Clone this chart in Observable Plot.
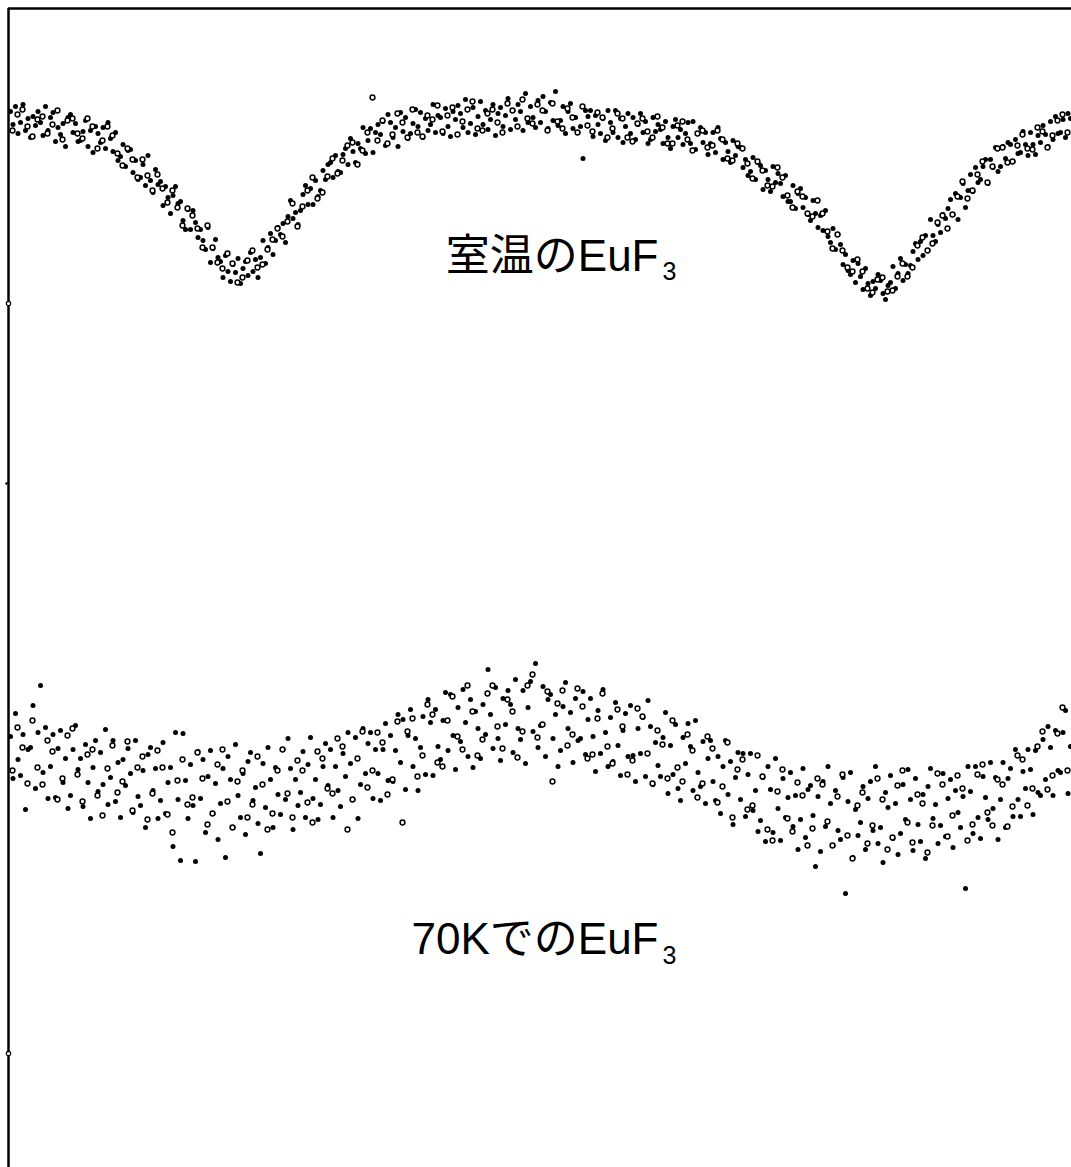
<!DOCTYPE html>
<html><head><meta charset="utf-8">
<script src="https://cdn.jsdelivr.net/npm/d3@7"></script>
<script src="https://cdn.jsdelivr.net/npm/@observablehq/plot@0.6"></script>
<style>html,body{margin:0;padding:0;background:#fff}</style>
</head><body><div id="chart"></div>
<script>
// Positions along the scan (arbitrary units), sampled on a regular grid
const filledStart = 2, filledStep = 2.5;
const openStart = 4, openStep = 5;

// Room temperature EuF3 — filled markers
const roomFilled = [
1056,1043,1061,1034,1045,1063,1037,1049,1030,1051,1042,1056,1045,1032,1061,1037,1050,1055,1026,1040,
1033,1044,1021,1050,1053,1035,1044,1026,1027,1036,1047,1021,1037,1015,1041,1034,1025,1040,1019,1045,
1029,1016,1035,1007,1011,1023,1001,1017,1018,995,1007,988,990,1003,982,1012,987,975,998,983,
986,962,981,970,954,972,981,964,966,947,938,958,938,957,945,930,938,927,918,940,
905,919,928,910,906,890,912,896,886,903,895,909,884,899,906,892,915,896,908,890,
910,927,904,920,934,913,927,940,933,944,925,951,967,949,955,943,957,973,982,963,
979,963,987,971,977,997,988,1003,1005,990,1012,996,995,1013,1019,1003,1029,1016,1005,1024,
1019,1040,1014,1027,1039,1015,1035,1043,1033,1046,1022,1053,1045,1030,1040,1021,1055,1036,1050,1029,
1034,1044,1058,1041,1055,1030,1049,1037,1043,1063,1035,1052,1050,1034,1059,1041,1031,1056,1048,1062,
1054,1040,1068,1035,1044,1060,1033,1051,1066,1043,1057,1038,1048,1063,1032,1054,1060,1041,1052,1069,
1038,1057,1048,1063,1056,1037,1074,1045,1061,1050,1040,1067,1045,1071,1056,1039,1065,1047,1076,1042,
1047,1061,1034,1056,1064,1039,1050,1035,1041,1009,1057,1051,1057,1031,1052,1043,1034,1049,1027,1057,
1045,1035,1057,1030,1049,1025,1041,1054,1034,1050,1028,1043,1054,1035,1046,1024,1028,1050,1036,1043,
1038,1024,1046,1030,1019,1041,1048,1030,1038,1023,1034,1045,1024,1046,1018,1034,1040,1025,1035,1013,
1024,1035,1015,1040,1029,1008,1025,1016,1005,1027,1012,1021,1020,1000,1008,992,996,1010,988,1005,
1002,978,997,988,976,1001,985,994,984,971,992,966,966,982,959,974,979,960,970,953,
947,967,954,940,952,937,957,931,925,939,918,933,923,903,913,897,893,907,885,904,
891,878,899,884,872,886,879,893,887,874,868,882,885,901,879,894,909,887,903,894,
902,916,924,908,926,912,932,917,948,932,926,943,935,953,949,959,968,953,974,948,
970,984,960,977,993,976,1000,985,988,1001,1008,984,1008,1000,1020,996,1001,1021,1009,1025,
1023,1006,1028,1014,1015,1036,1023,1012,1035,1023,1013,1032,1025,1042,1033,1021,1046,1028,1051,1034,
1035,1048,1030,1054,1049
];

// Room temperature EuF3 — open markers
const roomOpen = [
1037,1053,1058,1041,1031,1048,1051,1034,1043,1057,1028,1047,1049,1034,1029,1049,1041,1019,1027,1041,
1032,1014,1002,1019,1008,990,1008,992,977,993,979,965,977,960,942,959,952,939,920,942,
920,905,899,914,904,885,890,907,917,900,903,918,928,939,931,946,964,941,961,977,
990,969,975,991,1009,994,1007,1022,1025,1003,1017,1035,1070,1027,1047,1024,1033,1054,1045,1030,
1058,1035,1031,1052,1048,1062,1036,1052,1060,1033,1046,1058,1066,1039,1037,1054,1058,1045,1035,1064,
1057,1041,1068,1049,1044,1063,1057,1037,1064,1046,1039,1059,1050,1035,1061,1042,1036,1055,1050,1030,
1039,1054,1049,1030,1026,1044,1049,1036,1030,1051,1040,1024,1024,1042,1046,1028,1017,1034,1037,1020,
1022,1037,1028,1009,1007,1024,1019,1004,989,1006,997,982,981,1000,990,972,960,976,971,954,
951,967,954,936,919,933,917,900,896,908,896,879,875,888,890,876,877,891,904,891,
900,922,930,917,924,945,952,939,953,971,986,969,977,993,1006,985,1001,1019,1020,1005,
1006,1022,1033,1019,1018,1040,1036,1020,1032,1047,1053,1035
];

// EuF3 at 70 K — filled markers
const coldFilled = [
431,389,454,408,392,433,358,418,420,462,379,435,482,395,440,369,401,433,370,419,
437,385,409,359,372,418,442,398,409,361,423,385,349,400,427,376,415,383,438,363,
390,427,366,405,350,408,382,419,394,355,427,371,362,397,340,413,420,377,399,349,
367,425,354,385,400,321,435,368,307,434,387,349,403,362,306,416,369,408,335,391,
417,354,384,328,364,399,310,411,388,340,423,372,350,394,333,406,415,367,380,344,
314,404,360,420,388,340,400,373,353,418,368,429,399,338,388,362,375,416,350,403,
430,369,388,348,363,401,424,382,418,350,401,377,361,414,391,435,404,368,430,349,
383,439,394,424,435,369,418,394,367,418,444,387,432,386,417,453,405,448,378,432,
458,401,429,377,420,451,393,468,445,392,458,421,408,447,475,417,473,432,398,460,
426,478,445,411,468,400,456,439,409,463,433,498,453,419,480,429,407,469,443,477,
463,415,488,439,428,477,404,460,486,436,504,420,442,481,411,468,473,429,453,401,
417,461,485,439,455,405,469,427,429,476,413,448,469,431,396,457,414,478,435,401,
450,406,465,422,392,437,454,411,462,412,386,439,414,450,391,467,441,383,425,402,
391,430,455,374,422,393,443,379,367,430,404,444,421,377,447,395,381,426,364,409,
427,386,367,411,354,401,427,373,406,343,390,415,368,414,351,393,414,357,377,336,
347,390,326,401,378,335,409,359,327,389,350,370,395,341,372,318,348,399,330,378,
382,352,301,371,316,386,341,401,364,322,377,337,328,390,274,366,395,310,358,332,
345,381,318,369,386,337,401,324,340,305,375,360,392,329,364,313,334,383,348,398,
368,317,389,343,326,373,309,381,399,349,363,324,342,394,331,369,388,320,377,355,
340,371,279,401,376,334,401,350,329,391,370,348,405,359,390,328,368,405,340,389,
399,351,418,368,351,396,379,418,398,353,417,375,372,428,388,441,420,372,437,397,
395,435,457,374,421
];

// EuF3 at 70 K — open markers
const coldOpen = [
397,440,420,384,447,400,383,427,416,368,389,432,439,393,366,413,418,372,352,399,
422,375,386,426,357,400,411,348,374,417,400,353,335,387,408,363,370,415,389,343,
354,403,418,366,340,386,397,350,363,411,383,338,354,397,418,374,350,407,397,365,
345,416,409,379,374,429,421,338,368,409,436,380,397,435,425,373,388,446,345,436,
449,391,412,463,453,405,401,447,471,431,418,482,456,412,428,474,482,441,419,468,
456,410,436,482,493,430,443,476,386,464,477,422,433,479,461,409,413,449,474,421,
404,458,441,393,407,459,451,414,384,437,423,389,447,400,386,433,417,370,384,431,
419,365,381,425,350,398,408,358,362,412,391,338,327,376,398,349,336,385,372,322,
339,389,383,346,322,371,393,332,309,362,375,324,342,389,368,318,330,382,397,345,
325,373,364,315,342,394,383,331,352,392,379,327,343,393,403,355,342,388,383,341,
361,412,408,362,379,421,436,378,392,434,460,397
];

// Left-edge tick marks (signal units)
const tickCircles = [864, 114];
const tickDashes = [684];

// Labels
const labels = [
  {x: 650, y: 897, text: "室温のEuF", sub: "3", subY: 888},
  {x: 650, y: 214, text: "70KでのEuF", sub: "3", subY: 204}
];

const toRows = (arr, start, step) => arr.map((v, i) => ({x: start + i * step, y: v}));
const rf = toRows(roomFilled, filledStart, filledStep);
const ro = toRows(roomOpen, openStart, openStep);
const cf = toRows(coldFilled, filledStart, filledStep);
const co = toRows(coldOpen, openStart, openStep);

const font = "'Liberation Sans', Arial, 'Noto Sans CJK JP', sans-serif";

const chart = Plot.plot({
  width: 1071,
  height: 1167,
  marginLeft: 8, marginTop: 8, marginRight: 0, marginBottom: 0,
  style: {background: "#fff", fontFamily: font},
  x: {domain: [0, 1063], axis: null},
  y: {domain: [0, 1159], axis: null},
  marks: [
    Plot.dot(rf, {x: "x", y: "y", r: 2.5, fill: "black"}),
    Plot.dot(cf, {x: "x", y: "y", r: 2.5, fill: "black"}),
    Plot.dot(ro, {x: "x", y: "y", r: 2.4, fill: "white", stroke: "black", strokeWidth: 1.5}),
    Plot.dot(co, {x: "x", y: "y", r: 2.4, fill: "white", stroke: "black", strokeWidth: 1.5}),
    Plot.ruleX([0], {stroke: "black", strokeWidth: 2.5}),
    Plot.ruleY([1159], {stroke: "black", strokeWidth: 2.5}),
    Plot.dot(tickCircles, {x: () => 0, y: d => d, r: 2.2, fill: "white", stroke: "black", strokeWidth: 1.2}),
    Plot.dot(tickDashes, {x: () => 0, y: d => d, r: 1.3, dx: -2, fill: "black"}),
    Plot.text(labels, {x: "x", y: "y", text: "text", textAnchor: "end", lineAnchor: "bottom", fontSize: 44, fill: "black"}),
    Plot.text(labels, {x: "x", y: "subY", text: "sub", textAnchor: "start", lineAnchor: "bottom", dx: 4, fontSize: 25, fill: "black"})
  ]
});
document.getElementById("chart").appendChild(chart);
</script>
</body></html>
